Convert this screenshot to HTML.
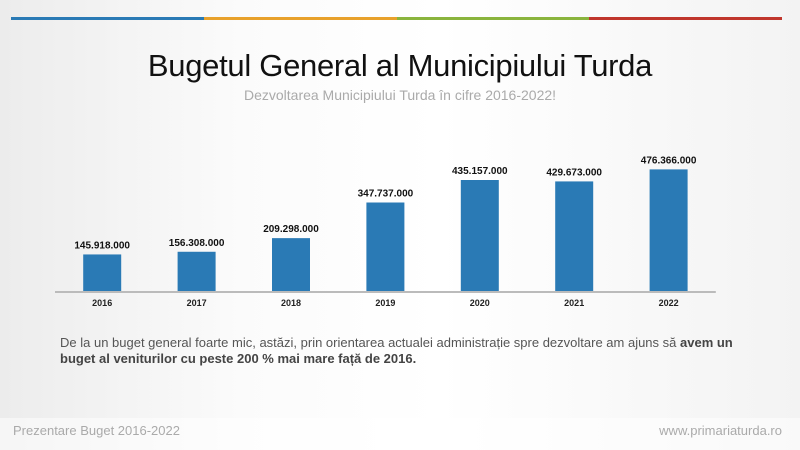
<!DOCTYPE html>
<html><head><meta charset="utf-8"><style>
body{margin:0}
#page{position:relative;width:800px;height:450px;overflow:hidden;background:linear-gradient(90deg,#ececec 0%,#fbfbfb 30%,#ffffff 55%,#f3f3f3 100%);font-family:"Liberation Sans",sans-serif}
.t{position:absolute;white-space:nowrap}
</style></head><body>
<div id="page">
<div style="position:absolute;left:11px;top:17px;width:771px;height:3px;display:flex">
<div style="flex:1;background:#2a7ab5"></div><div style="flex:1;background:#e8a12b"></div><div style="flex:1;background:#8ab43d"></div><div style="flex:1;background:#c0362c"></div></div>
<div class="t" style="left:0;width:800px;text-align:center;top:48px;font-size:31px;letter-spacing:-0.3px;color:#111">Bugetul General al Municipiului Turda</div>
<div class="t" style="left:0;width:800px;text-align:center;top:87px;font-size:14px;color:#aaa">Dezvoltarea Municipiului Turda în cifre 2016-2022!</div>
<svg id="chart" width="800" height="450" style="position:absolute;left:0;top:0"></svg>
<div class="t" style="left:60px;top:335px;font-size:13px;line-height:16px;color:#555">De la un buget general foarte mic, astăzi, prin orientarea actualei administrație spre dezvoltare am ajuns să <b style="color:#444">avem un</b><br><b style="color:#444">buget al veniturilor cu peste 200 % mai mare față de 2016.</b></div>
<div style="position:absolute;left:0;top:418px;width:800px;height:32px;background:rgba(255,255,255,0.5)"></div>
<div class="t" style="left:13px;top:423px;font-size:13px;color:#aaa">Prezentare Buget 2016-2022</div>
<div class="t" style="right:18px;top:423px;font-size:13px;color:#aaa">www.primariaturda.ro</div>
</div>
<script>
const years=["2016","2017","2018","2019","2020","2021","2022"];
const values=[145918000,156308000,209298000,347737000,435157000,429673000,476366000];
const labels=["145.918.000","156.308.000","209.298.000","347.737.000","435.157.000","429.673.000","476.366.000"];
const svg=document.getElementById('chart');
const NS='http://www.w3.org/2000/svg';
const x0=55,band=94.4,baseY=292,k=122.6/476366000,bw=38;
const x=i=>x0+band*(i+0.5);
const y=v=>baseY-v*k;
function mk(t,a){const e=document.createElementNS(NS,t);for(const n in a)e.setAttribute(n,a[n]);svg.appendChild(e);return e;}
years.forEach((yr,i)=>{
 const r=mk('rect',{x:x(i)-bw/2,y:y(values[i]),width:bw,height:baseY-y(values[i]),fill:'#2a7ab5'});
 
 
 const l=mk('text',{x:x(i),y:y(values[i])-6,'text-anchor':'middle','font-size':'10','font-weight':'bold',fill:'#111','font-family':'Liberation Sans'});
 l.textContent=labels[i];
 
 
 const t=mk('text',{x:x(i),y:baseY+14,'text-anchor':'middle','font-size':'9','font-weight':'bold',fill:'#222','font-family':'Liberation Sans'});
 t.textContent=yr;
 
 
});
const ax=mk('line',{x1:x0,x2:x0+band*7,y1:baseY,y2:baseY,stroke:'#bbb','stroke-width':'2'});


</script>
</body></html>
